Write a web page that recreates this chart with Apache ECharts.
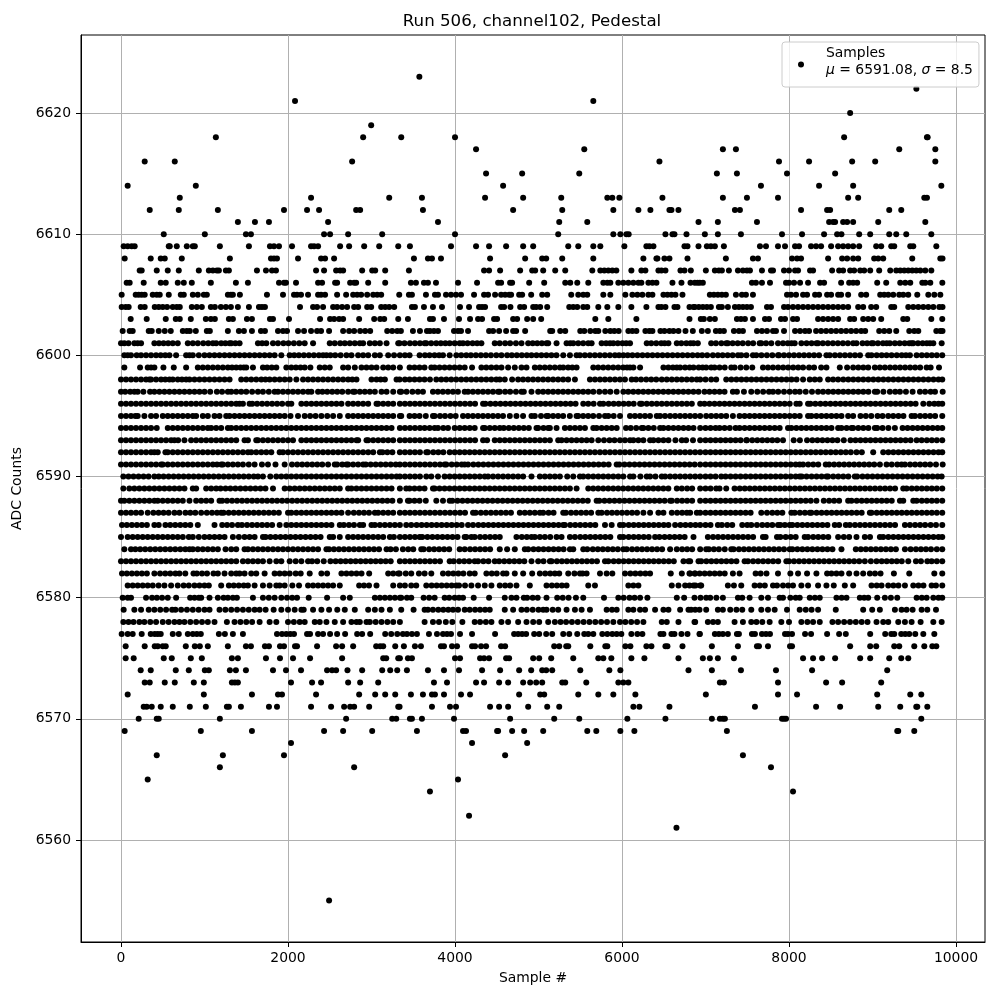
<!DOCTYPE html>
<html><head><meta charset="utf-8">
<style>html,body{margin:0;padding:0;background:#fff}#c{width:1000px;height:1000px}</style>
<script src="https://cdn.jsdelivr.net/npm/echarts@6/dist/echarts.min.js"></script>
</head><body><div id="c"></div>
<script>
const xTicks=[0,2000,4000,6000,8000,10000];
const yTicks=[6560,6570,6580,6590,6600,6610,6620];
const titleText="Run 506, channel102, Pedestal";
const s6623=[3573];
const s6622=[9525];
const s6621=[2084,5656];
const s6620=[8732];
const s6619=[2996];
const s6618=[1136,2900,3356,4000,8660,9652,9660];
const s6617=[4252,5548,7208,7364,9320,9752];
const s6616=[284,644,2768,6448,7880,8240,8756,9032,9752];
const s6615=[4372,4804,5488,7136,7376,7976,8552];
const s6614=[80,896,4576,7664,8360,8768,9824];
const s6613=[704,2276,3212,3604,4360,4816,5272,5824,5884,5968,6484,7208,7496,7868,8708,8828,9620,9652];
const s6612=[344,692,1160,1952,2228,2372,2816,2864,3616,4696,5284,5896,6196,6340,6568,6592,6676,7352,7412,8144,8456,8492,9200,9344];
const s6611=[1400,1604,1772,2480,3796,5248,5584,6916,7148,7616,8480,8528,8552,8648,8696,8768,9068,9632];
const s6610=[512,1004,1496,1556,2432,2504,2720,3128,4000,5236,5896,5980,6052,6080,6520,6604,6628,6772,6992,7148,7424,7916,8156,8420,8576,8628,8840,8972,9200,9284,9404,9704];
const s6609=[32,80,128,164,572,584,668,788,860,884,1184,1532,1784,1832,1892,2048,2276,2312,2360,2624,2732,2912,3092,3320,3460,3952,4252,4408,4612,4816,4936,5356,5476,5656,5740,6028,6292,6328,6376,6748,6784,6916,7016,7064,7112,7220,7652,7724,7868,7952,8072,8120,8264,8324,8384,8504,8588,8648,8708,8768,8840,9044,9104,9224,9260,9452,9488,9764];
const s6608=[44,356,476,524,728,1304,1796,1832,1868,2120,2396,2444,2552,3508,3676,3724,3832,4420,4840,5044,5092,5284,5656,6256,6412,6424,6508,6568,6784,7244,7568,7628,8036,8096,8144,8468,8636,8696,8768,8828,9020,9068,9128,9476,9812,9838];
const s6607=[224,248,428,560,692,932,1052,1100,1148,1172,1256,1292,1628,1736,1808,1856,2336,2432,2576,2624,2660,2888,3008,3044,3164,3448,4348,4408,4540,4780,4924,4960,5056,5200,5320,5644,5740,5788,5836,5884,5932,6112,6232,6280,6436,6472,6520,6700,6748,6824,7004,7112,7160,7196,7280,7388,7448,7496,7532,7676,7784,7808,7940,8000,8072,8108,8252,8288,8516,8600,8648,8732,8780,8852,8900,8972,9080,9212,9284,9332,9380,9428,9476,9524,9572,9632,9704];
const s6606=[68,104,272,476,536,680,752,848,1076,1376,1520,1892,1952,1976,2096,2360,2408,2564,2588,2744,2792,2816,2960,3164,3472,3532,3628,3676,3772,4036,4264,4516,4552,4660,4684,4888,5068,5320,5380,5464,5596,5776,5824,5860,5956,6016,6076,6136,6196,6232,6316,6364,6412,6604,6712,6820,6904,6872,6932,6968,7556,7604,7676,7772,7964,8000,8060,8132,8228,8372,8420,8624,8720,8768,8816,9056,9164,9332,9392,9452,9596,9632,9692,9836];
const s6605=[8,176,212,248,284,380,428,464,572,716,752,860,920,992,1028,1280,1316,1340,1424,1748,1940,2072,2108,2156,2240,2360,2396,2444,2588,2696,2780,2828,2876,2948,3020,3068,3116,3332,3448,3484,3652,3760,3796,3892,3952,4012,4072,4228,4348,4396,4480,4552,4600,4648,4672,4768,4804,4912,5044,5104,5392,5476,5536,5584,5776,5860,6040,6124,6184,6244,6316,6364,6496,6544,6592,6640,6724,7052,7100,7148,7196,7244,7364,7436,7484,7568,7976,8024,8084,8168,8216,8312,8360,8456,8504,8588,8624,8708,8864,8924,9092,9140,9188,9248,9320,9368,9428,9536,9668,9740,9812];
const s6604=[8,56,92,236,284,404,452,500,552,620,668,704,848,908,968,1076,1124,1196,1256,1316,1400,1532,1652,1688,1724,2144,2300,2348,2420,2540,2588,2648,2708,2792,2840,2948,2996,3116,3164,3212,3272,3484,3520,3628,3736,3844,4060,4168,4288,4324,4360,4552,4588,4664,4780,4828,4936,4972,5020,5104,5368,5416,5464,5536,5584,5716,5824,5956,6112,6292,6436,6472,6520,6628,6664,6808,6856,6872,6920,6968,7016,7064,7160,7196,7268,7352,7400,7448,7496,7544,7736,7784,7940,7988,8048,8108,8168,8228,8288,8348,8408,8468,8528,8588,8648,8708,8828,8888,8984,9044,9224,9260,9428,9488,9548,9608,9668,9728,9800,9838];
const s6603=[116,308,536,656,704,836,1016,1076,1124,1292,1340,1508,1568,1784,1820,2012,2384,2504,2552,2612,2660,2852,3032,3104,3152,3320,3436,3700,3736,3868,4048,4180,4276,4324,4468,4504,4696,4744,4864,4936,5032,5680,5836,6172,6808,6944,6980,7052,7112,7376,7424,7472,7568,7712,7760,7904,7952,8048,8096,8348,8408,8468,8528,8588,8732,8780,8888,8948,9008,9104,9368,9416,9704,9835];
const s6602=[20,104,140,332,368,452,524,596,740,788,824,896,1028,1064,1280,1412,1472,1568,1676,1724,1880,1940,1988,2120,2192,2276,2348,2396,2492,2660,2732,2792,2864,2924,2984,3188,3248,3308,3352,3496,3580,3664,3700,3748,3796,3988,4036,4072,4156,4408,4456,4528,4612,4696,4732,4840,5140,5164,5260,5320,5500,5548,5620,5680,5716,5800,5860,5908,5960,6076,6124,6172,6280,6328,6364,6460,6508,6568,6616,6676,6760,6848,6956,7028,7124,7172,7220,7340,7400,7448,7616,7676,7736,7808,7844,7940,8072,8132,8192,8240,8324,8384,8444,8504,8564,8624,8684,8744,8804,8864,8912,9080,9140,9200,9284,9440,9500,9548,9764,9812,9838];
const s6601=[0,40,90,160,200,240,400,455,510,565,620,680,800,860,920,985,1045,1100,1140,1200,1250,1300,1320,1370,1420,1640,1690,1740,1820,1880,1945,2005,2070,2135,2200,2300,2500,2560,2625,2680,2740,2800,2860,2900,2980,3040,3100,3180,3320,3336,3395,3460,3520,3580,3636,3656,3715,3775,3830,3885,3936,3996,4056,4096,4150,4210,4265,4316,4476,4535,4600,4660,4730,4796,4876,4930,4985,5040,5096,5116,5216,5336,5380,5416,5476,5535,5596,5636,5756,5810,5856,5896,5950,6005,6050,6096,6296,6350,6410,6470,6510,6556,6656,6710,6770,6820,6856,6908,7068,7125,7190,7248,7268,7325,7385,7445,7510,7570,7648,7668,7725,7788,7868,7928,7985,8030,8068,8148,8210,8270,8328,8348,8405,8465,8525,8585,8645,8705,8768,8808,8880,8935,8988,9008,9065,9125,9170,9208,9268,9325,9385,9440,9468,9488,9545,9600,9650,9688,9728,9828];
const s6600=[40,80,120,188,240,300,360,420,475,530,580,660,780,820,860,932,1000,1060,1120,1180,1240,1300,1360,1420,1480,1540,1600,1660,1720,1780,1840,1920,2020,2075,2130,2190,2250,2310,2370,2420,2460,2508,2565,2630,2700,2760,2840,2900,2960,3040,3100,3200,3270,3340,3400,3456,3576,3640,3695,3755,3810,3856,3936,4016,4075,4135,4190,4250,4310,4370,4430,4495,4556,4624,4680,4740,4800,4860,4916,4976,5035,5095,5155,5215,5296,5376,5456,5496,5555,5615,5675,5735,5795,5855,5915,5965,6016,6068,6125,6185,6245,6305,6365,6425,6485,6545,6605,6665,6725,6785,6845,6905,6960,7020,7088,7148,7205,7265,7325,7388,7428,7490,7568,7608,7670,7735,7800,7868,7880,7940,8000,8060,8120,8180,8240,8300,8360,8448,8488,8550,8610,8670,8730,8790,8850,8948,8988,9050,9110,9168,9228,9290,9350,9400,9448,9528,9590,9650,9710,9770,9835];
const s6599=[40,228,320,360,400,508,632,780,920,980,1040,1100,1160,1220,1280,1330,1380,1430,1470,1500,1580,1700,1750,1805,1860,1980,2040,2095,2150,2200,2268,2380,2440,2500,2660,2720,2800,2880,2940,3000,3060,3140,3200,3260,3340,3456,3515,3575,3635,3716,3756,3815,3875,3935,3995,4055,4116,4204,4316,4375,4435,4496,4556,4636,4716,4796,4856,4956,5015,5075,5135,5195,5256,5296,5355,5405,5456,5656,5715,5775,5835,5895,5955,6015,6060,6096,6136,6216,6496,6555,6610,6656,6696,6755,6810,6856,6918,6965,7008,7068,7108,7168,7230,7308,7348,7420,7488,7560,7688,7748,7808,7870,7930,7990,8050,8110,8168,8240,8300,8385,8448,8608,8696,8768,8830,8890,8948,9028,9088,9148,9210,9270,9330,9390,9450,9510,9570,9648,9696,9796];
const s6598=[0,60,120,180,240,300,340,360,420,480,530,580,620,680,730,780,820,880,940,1000,1060,1120,1180,1240,1300,1440,1500,1560,1620,1680,1730,1780,1840,1900,1960,2020,2100,2180,2240,2300,2360,2420,2480,2540,2600,2660,2720,2770,2820,3000,3060,3110,3160,3300,3336,3400,3456,3516,3575,3635,3700,3776,3836,3895,3955,4015,4075,4135,4195,4255,4315,4375,4435,4495,4536,4596,4684,4756,4815,4875,4935,4995,5055,5115,5175,5235,5295,5355,5436,5616,5676,5736,5795,5855,5915,5975,6035,6116,6168,6228,6290,6350,6410,6476,6536,6596,6656,6715,6775,6835,6895,6936,7000,7068,7128,7248,7310,7370,7430,7490,7550,7610,7670,7730,7790,7850,7910,7970,8030,8090,8168,8248,8308,8368,8468,8528,8588,8650,8710,8770,8830,8890,8950,9010,9070,9130,9190,9250,9310,9370,9430,9490,9550,9610,9670,9730,9790,9835];
const s6597=[0,50,110,160,200,268,348,400,460,520,580,640,700,760,820,880,940,1000,1068,1148,1210,1280,1320,1380,1440,1500,1570,1640,1700,1770,1840,1880,1940,2000,2060,2120,2180,2240,2280,2360,2412,2470,2530,2590,2650,2720,2780,2800,2860,2920,2980,3040,3120,3180,3260,3340,3356,3420,3490,3556,3616,3736,3795,3855,3915,3975,4035,4116,4156,4215,4275,4335,4395,4455,4516,4536,4600,4660,4730,4796,4824,4916,4996,5055,5115,5175,5235,5295,5355,5416,5476,5535,5595,5656,5728,5796,5860,5936,6016,6075,6135,6195,6255,6315,6375,6435,6495,6555,6615,6675,6735,6795,6855,6916,6988,7048,7108,7168,7228,7328,7376,7460,7548,7620,7690,7760,7808,7870,7940,8008,8072,8128,8200,8275,8348,8408,8470,8530,8590,8650,8710,8770,8830,8890,8950,9028,9056,9130,9208,9272,9328,9400,9480,9568,9630,9696,9748,9840];
const s6596=[0,60,120,180,240,300,360,420,480,540,600,660,720,780,840,900,960,1020,1080,1140,1200,1260,1320,1380,1420,1460,1540,1572,1630,1690,1750,1810,1870,1930,2000,2040,2160,2220,2280,2340,2400,2460,2520,2580,2640,2720,2780,2840,2900,2960,3060,3080,3140,3200,3260,3340,3400,3460,3520,3580,3640,3700,3760,3820,3880,3940,4000,4060,4120,4180,4240,4336,4364,4424,4484,4544,4604,4664,4724,4784,4844,4904,4964,5024,5084,5144,5204,5264,5324,5384,5444,5536,5596,5660,5736,5776,5840,5900,5960,6020,6080,6140,6216,6236,6296,6356,6416,6476,6536,6596,6656,6716,6776,6836,6936,6988,7048,7108,7168,7228,7288,7348,7408,7468,7528,7588,7648,7708,7768,7828,7888,7948,8008,8088,8128,8228,8256,8316,8376,8436,8496,8556,8616,8676,8736,8796,8856,8916,8976,9036,9096,9156,9216,9276,9336,9396,9456,9516,9608,9680,9740,9790,9835];
const s6595=[0,60,120,172,200,280,360,420,500,560,620,680,740,800,860,900,980,1040,1120,1180,1260,1300,1360,1420,1480,1540,1600,1660,1720,1780,1840,1900,1960,2030,2120,2200,2265,2330,2400,2470,2540,2620,2720,2780,2840,2900,2960,3020,3080,3140,3200,3260,3340,3356,3456,3516,3575,3650,3736,3756,3820,3880,3945,4008,4096,4155,4215,4275,4335,4395,4455,4515,4575,4656,4736,4815,4916,4956,5030,5096,5116,5175,5235,5295,5375,5456,5476,5535,5595,5655,5725,5796,5836,5900,5976,6096,6155,6215,6275,6335,6416,6456,6515,6576,6636,6695,6755,6815,6875,6936,7008,7068,7128,7188,7248,7328,7408,7468,7528,7588,7648,7708,7768,7828,7888,7948,8008,8068,8128,8228,8268,8328,8388,8448,8508,8568,8628,8708,8768,8856,8920,8985,9060,9120,9188,9248,9310,9370,9468,9508,9570,9630,9690,9750,9835];
const s6594=[0,60,120,180,240,300,360,428,560,620,680,740,800,860,920,980,1040,1080,1140,1200,1280,1320,1380,1440,1500,1560,1620,1680,1740,1800,1860,1920,1980,2040,2100,2160,2220,2280,2340,2400,2460,2520,2580,2640,2700,2760,2820,2880,2940,3000,3060,3120,3180,3240,3340,3400,3460,3520,3580,3636,3696,3756,3796,3860,3916,3996,4056,4116,4176,4236,4336,4356,4416,4476,4536,4584,4644,4704,4764,4824,4884,4976,4996,5060,5116,5136,5216,5316,5376,5436,5496,5556,5656,5696,5756,5816,5876,5936,6048,6104,6170,6236,6256,6316,6380,6456,6496,6556,6616,6676,6736,6796,6856,6936,7000,7060,7120,7168,7228,7290,7360,7408,7468,7528,7588,7648,7708,7768,7828,7888,7988,8028,8088,8148,8208,8268,8328,8388,8448,8508,8588,8628,8690,8748,8768,8830,8890,8950,9028,9056,9120,9190,9268,9360,9420,9480,9540,9600,9660,9720,9780,9835];
const s6593=[0,60,120,180,240,300,360,420,480,540,600,640,684,760,840,900,960,1020,1080,1140,1200,1260,1320,1380,1480,1520,1620,1640,1700,1760,1820,1880,1940,2000,2060,2160,2220,2280,2340,2400,2460,2520,2580,2640,2700,2760,2820,2840,2940,2960,3020,3080,3140,3200,3260,3340,3400,3460,3520,3580,3640,3700,3760,3820,3880,3940,4000,4060,4120,4180,4240,4336,4384,4476,4536,4596,4656,4716,4776,4836,4896,4956,5016,5076,5136,5236,5276,5336,5396,5456,5516,5576,5636,5716,5784,5850,5910,5975,6035,6096,6136,6196,6256,6336,6376,6436,6496,6556,6640,6716,6768,6850,6936,7000,7060,7120,7180,7240,7300,7360,7420,7488,7496,7560,7620,7680,7740,7800,7860,7928,8056,8130,8216,8280,8340,8400,8460,8520,8580,8656,8736,8796,8856,8916,8976,9036,9096,9156,9216,9276,9336,9396,9456,9528,9588,9650,9710,9770,9835];
const s6592=[0,60,120,180,240,300,360,400,440,532,560,620,680,740,800,860,920,980,1040,1100,1160,1220,1280,1340,1400,1460,1520,1560,1620,1680,1740,1800,1900,1940,2000,2060,2120,2180,2240,2300,2360,2420,2480,2540,2600,2660,2720,2780,2840,2900,2960,3020,3100,3132,3190,3250,3340,3400,3460,3520,3580,3656,3676,3740,3800,3860,3936,3996,4056,4116,4176,4236,4296,4356,4416,4476,4536,4596,4656,4716,4776,4836,4896,4956,5016,5076,5136,5196,5256,5316,5376,5436,5496,5556,5616,5676,5736,5796,5856,5916,5976,6036,6096,6156,6216,6276,6336,6396,6456,6516,6576,6636,6696,6756,6816,6876,6936,7000,7060,7120,7180,7240,7300,7360,7420,7480,7540,7600,7660,7720,7780,7840,7900,7960,8020,8080,8140,8200,8260,8320,8380,8440,8500,8560,8620,8680,8740,8808,8872,9008,9128,9190,9250,9310,9370,9430,9490,9550,9610,9670,9730,9790,9835];
const s6591=[0,60,120,180,240,300,360,420,480,500,560,620,680,740,800,860,920,980,1040,1100,1150,1200,1220,1280,1340,1400,1460,1530,1600,1688,1760,1850,1960,2048,2110,2170,2230,2290,2350,2410,2480,2560,2588,2650,2700,2720,2780,2840,2900,2932,2990,3050,3110,3170,3230,3290,3340,3400,3460,3520,3580,3640,3700,3760,3820,3876,3896,3960,4020,4080,4116,4156,4220,4280,4340,4400,4460,4520,4580,4640,4700,4760,4820,4880,4940,5000,5060,5120,5180,5240,5300,5360,5420,5480,5540,5600,5660,5720,5780,5840,5936,5968,6030,6090,6150,6210,6270,6330,6390,6450,6510,6570,6630,6690,6750,6810,6870,6936,7000,7060,7120,7180,7240,7300,7360,7420,7480,7540,7600,7660,7720,7780,7840,7900,7960,8020,8080,8128,8168,8230,8290,8350,8440,8480,8540,8600,8660,8720,8780,8840,8900,8960,9020,9088,9168,9230,9296,9348,9388,9450,9510,9570,9630,9690,9760,9840];
const s6590=[28,90,150,210,270,330,400,452,510,570,630,690,750,810,870,930,990,1050,1110,1170,1230,1290,1350,1410,1470,1530,1590,1640,1700,1788,1860,1920,1980,2040,2100,2160,2220,2280,2340,2400,2460,2520,2580,2640,2700,2760,2820,2880,2940,3000,3060,3120,3180,3240,3300,3340,3400,3460,3520,3580,3656,3716,3796,3876,3936,3996,4056,4116,4176,4236,4296,4356,4396,4456,4516,4576,4636,4696,4756,4816,4916,5016,5076,5136,5196,5256,5344,5416,5496,5536,5596,5656,5716,5776,5836,5896,5956,6016,6096,6136,6220,6296,6336,6400,6476,6516,6576,6636,6696,6756,6816,6876,6936,7000,7060,7120,7188,7240,7300,7360,7420,7480,7540,7600,7660,7720,7780,7840,7900,7960,8020,8080,8128,8152,8210,8270,8330,8390,8448,8468,8530,8590,8650,8710,8788,8816,8880,8940,9000,9060,9120,9180,9240,9300,9360,9420,9480,9540,9600,9660,9720,9780,9828];
const s6589=[28,100,160,220,280,340,400,460,520,580,640,700,760,860,900,1020,1080,1140,1192,1252,1310,1370,1430,1490,1550,1610,1670,1730,1820,1960,2020,2080,2140,2200,2260,2320,2380,2440,2500,2560,2620,2720,2760,2820,2880,2940,3000,3060,3120,3180,3240,3340,3416,3456,3515,3575,3635,3736,3756,3815,3875,3935,3995,4055,4115,4175,4235,4295,4355,4415,4475,4535,4595,4655,4715,4775,4835,4895,4955,5015,5075,5135,5195,5255,5316,5376,5456,5596,5655,5715,5775,5835,5895,5955,6015,6075,6135,6195,6255,6315,6375,6435,6495,6555,6656,6716,6780,6840,6936,7000,7060,7128,7168,7248,7348,7410,7470,7530,7590,7650,7710,7770,7830,7890,7950,8010,8070,8130,8190,8250,8310,8370,8430,8490,8550,8610,8670,8730,8790,8850,8910,8970,9030,9090,9150,9210,9270,9368,9408,9470,9530,9590,9650,9710,9770,9835];
const s6588=[0,40,100,160,220,280,340,400,440,500,560,620,680,740,820,900,960,1020,1080,1180,1212,1270,1330,1390,1450,1510,1570,1630,1690,1750,1810,1870,1930,1990,2050,2110,2170,2230,2290,2350,2410,2470,2530,2590,2650,2710,2770,2830,2890,2950,3010,3070,3130,3190,3250,3340,3436,3456,3515,3575,3650,3776,3856,3936,3968,4030,4090,4150,4210,4270,4330,4390,4450,4510,4570,4630,4690,4750,4810,4870,4930,4990,5050,5110,5170,5230,5290,5350,5410,5470,5530,5590,5696,5728,5790,5850,5910,5970,6030,6090,6150,6210,6270,6330,6390,6450,6510,6576,6596,6660,6720,6780,6840,6936,7000,7060,7120,7180,7240,7300,7360,7420,7480,7540,7600,7660,7720,7780,7840,7900,7960,8020,8080,8140,8200,8260,8328,8416,8480,8540,8600,8708,8748,8810,8870,8930,8990,9050,9110,9170,9230,9328,9368,9488,9528,9590,9650,9710,9770,9835];
const s6587=[0,60,120,180,240,320,388,450,510,570,640,700,772,830,890,960,1028,1090,1150,1200,1228,1290,1350,1410,1470,1530,1590,1650,1710,1770,1830,1890,2000,2040,2100,2160,2220,2280,2340,2400,2460,2520,2580,2640,2720,2788,2850,2910,2970,3040,3080,3140,3200,3260,3340,3400,3460,3520,3580,3640,3700,3760,3820,3880,3940,4000,4060,4120,4216,4248,4310,4370,4430,4490,4550,4610,4670,4776,4836,4896,4956,5016,5056,5120,5180,5296,5328,5390,5450,5510,5570,5630,5716,5756,5820,5880,5940,6000,6060,6120,6180,6256,6336,6436,6496,6596,6660,6720,6776,6816,6896,6936,7000,7060,7120,7180,7240,7300,7360,7420,7480,7540,7668,7736,7800,7860,7920,8028,8068,8130,8190,8248,8268,8330,8390,8450,8510,8570,8630,8690,8750,8810,8870,8968,8988,9050,9110,9170,9230,9290,9350,9410,9470,9530,9590,9650,9710,9770,9835];
const s6586=[12,70,130,190,250,310,400,452,532,590,650,710,770,830,920,1120,1212,1270,1330,1400,1448,1510,1570,1630,1690,1750,1810,1900,1980,2040,2100,2160,2220,2280,2340,2400,2460,2520,2620,2668,2730,2790,2860,2900,3000,3040,3100,3160,3220,3280,3340,3416,3476,3540,3600,3660,3720,3780,3840,3900,3960,4020,4080,4156,4216,4280,4340,4400,4460,4520,4580,4640,4700,4760,4820,4880,4940,5000,5060,5120,5180,5240,5296,5316,5380,5440,5500,5560,5620,5680,5796,5876,5976,6016,6080,6140,6200,6260,6320,6380,6440,6500,6556,6636,6700,6760,6820,6880,6936,7000,7060,7148,7196,7260,7320,7440,7500,7548,7616,7680,7740,7800,7868,7896,7950,8008,8040,8100,8160,8220,8280,8340,8400,8460,8548,8600,8680,8728,8790,8850,8910,8970,9030,9090,9150,9210,9270,9388,9448,9510,9570,9630,9696,9760,9835];
const s6585=[0,80,140,200,260,320,380,440,500,560,620,680,740,812,860,932,1000,1060,1120,1180,1240,1340,1412,1480,1540,1600,1700,1732,1790,1850,1910,1970,2030,2090,2150,2210,2270,2330,2390,2500,2540,2620,2720,2780,2840,2900,2960,3020,3080,3140,3220,3268,3340,3400,3460,3520,3576,3608,3670,3730,3790,3850,3910,3970,4030,4116,4136,4196,4236,4300,4360,4420,4480,4536,4736,4800,4860,4916,4956,5016,5076,5140,5216,5276,5376,5436,5500,5560,5620,5680,5740,5800,5860,5976,6016,6080,6140,6200,6260,6320,6396,6448,6510,6570,6630,6690,6750,6856,7028,7090,7150,7210,7270,7330,7390,7450,7510,7570,7688,7720,7856,7896,7960,8020,8080,8188,8228,8290,8350,8410,8470,8588,8656,8720,8808,8908,8970,9088,9128,9190,9250,9310,9370,9430,9490,9550,9610,9670,9730,9790,9835];
const s6584=[40,120,172,230,290,350,410,470,530,590,650,710,770,820,860,920,980,1040,1100,1160,1252,1320,1380,1480,1520,1580,1640,1700,1760,1820,1880,1940,2000,2060,2120,2180,2240,2300,2360,2460,2492,2550,2610,2670,2730,2790,2850,2910,2970,3030,3090,3180,3228,3292,3376,3440,3500,3596,3624,3690,3750,3810,3870,3930,4056,4116,4180,4240,4300,4360,4420,4536,4624,4716,4836,4876,4940,5000,5060,5120,5180,5240,5300,5376,5416,5536,5584,5650,5710,5770,5830,5890,5950,6016,6056,6120,6180,6240,6300,6360,6420,6480,6576,6656,6720,6780,6840,6936,7008,7040,7100,7160,7230,7308,7336,7400,7460,7520,7580,7640,7700,7760,7820,7880,7940,8008,8040,8100,8160,8220,8280,8340,8400,8460,8520,8628,8800,8860,8920,8980,9040,9100,9160,9220,9280,9388,9456,9520,9580,9640,9700,9770,9835];
const s6583=[0,60,120,180,240,300,360,420,480,540,600,660,720,780,840,900,960,1020,1080,1140,1200,1260,1320,1380,1460,1520,1580,1640,1700,1780,1860,1920,2020,2092,2160,2240,2288,2350,2428,2508,2570,2630,2690,2750,2810,2870,2930,2990,3050,3110,3170,3230,3340,3400,3460,3520,3580,3640,3700,3760,3820,3936,3984,4050,4110,4170,4236,4276,4340,4400,4476,4528,4590,4650,4710,4770,4830,4916,4996,5060,5136,5156,5220,5280,5340,5400,5460,5520,5580,5640,5700,5796,5836,5900,5960,6020,6080,6140,6200,6260,6320,6380,6440,6500,6560,6620,6736,6796,6816,6916,6948,7010,7070,7130,7190,7250,7310,7370,7468,7508,7570,7630,7690,7750,7810,7870,7968,8000,8060,8120,8180,8240,8300,8360,8420,8480,8540,8600,8660,8720,8780,8840,8908,8980,9048,9110,9170,9230,9290,9350,9428,9520,9580,9656,9708,9770,9835];
const s6582=[12,70,130,190,250,310,400,468,530,590,652,700,770,868,908,970,1030,1108,1160,1240,1320,1380,1420,1480,1560,1620,1720,1840,1900,1960,2020,2092,2152,2260,2400,2468,2640,2700,2760,2820,2880,2972,3200,3260,3320,3336,3410,3476,3568,3636,3716,3856,3920,3980,4040,4100,4176,4236,4376,4440,4500,4576,4616,4716,4816,4924,5016,5080,5140,5196,5248,5356,5430,5496,5528,5576,5736,5816,5884,6036,6100,6160,6220,6280,6336,6584,6716,6816,6876,6808,6870,6930,6990,7050,7110,7170,7230,7328,7408,7600,7660,7730,7868,8016,8108,8216,8328,8456,8508,8568,8628,8720,8808,8888,8968,9030,9096,9256,9440,9740,9835];
const s6581=[80,140,200,260,320,380,450,520,600,680,750,812,880,940,1000,1052,1200,1292,1350,1410,1470,1520,1600,1700,1780,1860,1900,1960,2052,2132,2240,2300,2360,2420,2480,2540,2620,2852,2910,2970,3060,3260,3340,3400,3476,3536,3656,3720,3780,3840,3900,3960,4016,4048,4120,4196,4276,4356,4436,4536,4600,4660,4736,4896,5096,5160,5220,5280,5336,5596,5676,6076,6136,6196,6596,6676,6756,6856,6936,6808,6880,6948,7268,7340,7428,7588,7650,7710,7808,7856,7928,7990,8048,8148,8228,8348,8448,8536,8668,8768,8988,9050,9108,9188,9250,9310,9388,9488,9550,9610,9708,9760,9835];
const s6580=[20,80,120,300,372,430,492,560,660,828,880,932,960,1060,1160,1228,1280,1340,1388,1580,1700,1770,1840,1920,1988,2050,2108,2248,2468,2660,2740,3040,3100,3160,3220,3280,3340,3356,3424,3476,3624,3690,3756,3876,3930,3996,4048,4096,4224,4408,4596,4676,4736,4824,4864,4930,4990,5096,5224,5290,5360,5448,5536,5784,5956,6020,6090,6150,6216,6304,6656,6744,6868,6940,7008,7056,7130,7208,7388,7440,7528,7668,7748,7888,7928,8016,8080,8128,8248,8310,8368,8568,8630,8688,8848,8900,8948,9056,9148,9220,9296,9528,9590,9648,9728,9790,9835];
const s6579=[32,160,240,332,400,470,540,612,652,720,790,860,930,1000,1060,1180,1250,1320,1390,1460,1530,1600,1660,1732,1828,1920,2000,2080,2160,2188,2300,2400,2492,2590,2680,2800,2960,3040,3120,3220,3356,3504,3636,3676,3736,3800,3860,3920,3976,4036,4116,4176,4240,4300,4360,4416,4596,4696,4796,4860,4930,5000,5056,5096,5170,5236,5336,5436,5516,5616,5816,5880,5936,6076,6136,6216,6276,6396,6496,6556,6696,6796,6876,6828,6928,7008,7148,7208,7296,7370,7440,7548,7668,7748,7828,7976,8128,8200,8270,8348,8560,8888,8996,9088,9268,9348,9408,9480,9588,9656,9760];
const s6578=[28,90,150,220,280,350,420,500,570,640,700,760,830,900,970,1040,1120,1268,1360,1430,1500,1570,1660,1780,1860,2000,2070,2140,2200,2320,2380,2460,2560,2660,2760,2820,2860,2940,2980,3050,3120,3190,3260,3340,3636,3736,3808,3890,3968,4088,4236,4300,4370,4436,4556,4636,4756,4856,4936,5008,5116,5196,5264,5330,5400,5470,5540,5610,5680,5750,5820,5896,5976,6040,6110,6180,6256,6476,6536,6676,6876,6868,7028,7090,7148,7348,7448,7548,7610,7680,7768,7908,8000,8148,8220,8288,8368,8520,8588,8660,8730,8800,8870,8940,9048,9128,9188,9308,9388,9468,9576,9728,9828];
const s6577=[8,80,140,248,356,404,440,476,620,692,800,860,908,956,1172,1244,1340,1460,1868,1928,1980,2028,2072,2228,2264,2360,2420,2504,2588,2684,2828,2888,2984,3164,3236,3308,3376,3424,3484,3544,3688,3784,3856,3904,3952,4060,4204,4480,4708,4756,4804,4852,4948,5008,5092,5164,5296,5368,5464,5548,5596,5656,5764,5824,5884,5936,5992,6112,6184,6244,6460,6496,6592,6628,6712,6784,6928,6932,7112,7160,7208,7268,7376,7400,7556,7592,7676,7724,7772,7952,7988,8036,8192,8264,8456,8600,8680,8972,9152,9224,9260,9344,9392,9440,9512,9608,9740];
const s6576=[56,284,404,440,500,536,776,884,944,1040,1280,1496,1556,1724,1772,1904,1952,2084,2108,2348,2576,2648,2780,3056,3104,3140,3284,3388,3520,3592,3832,3868,3964,4024,4204,4240,4312,4372,4552,4600,5188,5248,5332,5356,5620,5800,5824,6040,6100,6292,6352,6520,6544,6724,7076,7388,7616,7640,7748,8012,8036,8732,8972,9044,9260,9320,9500,9620,9716,9764];
const s6575=[56,152,512,608,836,968,1328,1400,1736,1904,2060,2264,2648,3140,3176,3320,3340,3436,3484,4000,4060,4300,4348,4408,4612,4648,4936,5008,5152,5416,5716,5776,5872,6112,6268,6676,6968,7052,7148,7340,8168,8288,8396,8552,8852,8972,9200,9344,9428];
const s6574=[236,356,656,812,1004,1052,1304,1376,1496,1820,1976,2156,2468,2528,2576,2712,2888,3128,3224,3308,3424,3676,3868,4048,4324,4540,4768,4912,5044,5092,5164,5500,5848,5980,6796,7076,7424,7844,8276,9176];
const s6573=[284,344,524,644,872,992,1328,1364,1400,2036,2288,2396,2720,2864,3080,3748,3904,4252,4348,4528,4636,4816,4900,4972,5044,5284,5320,5572,5956,6016,6076,7172,7220,7868,8444,8636,9104];
const s6572=[80,992,1568,1880,1928,2336,2852,3044,3164,3284,3472,3616,3724,3760,3868,4072,4180,4768,5020,5068,5476,5716,5896,6160,7004,7868,8096,9056,9452,9584];
const s6571=[272,308,368,476,620,824,1016,1268,1292,1436,1772,1868,2276,2516,2672,2744,2792,2972,3320,3336,3724,3940,4012,4420,4528,4636,4876,5104,5248,6136,6208,6568,7592,8324,8612,9068,9332,9524,9536,9656];
const s6570=[212,428,452,1184,2696,3248,3296,3460,3484,3604,3988,4660,5188,5488,6064,6520,7076,7172,7208,7232,7916,7940,7964,9584];
const s6569=[44,956,1568,2432,2660,3008,3544,4096,4132,4504,4516,4684,4828,5056,5584,5692,5980,6148,7256,9296,9308,9500];
const s6568=[2036,4204,4864];
const s6567=[428,1220,1952,4600,7448];
const s6566=[1184,2792,7784];
const s6565=[320,4036];
const s6564=[3700,8048];
const s6562=[4168];
const s6561=[6652];
const s6555=[2492];

const levels=[[6623,s6623],[6622,s6622],[6621,s6621],[6620,s6620],[6619,s6619],[6618,s6618],[6617,s6617],[6616,s6616],[6615,s6615],[6614,s6614],[6613,s6613],[6612,s6612],[6611,s6611],[6610,s6610],[6609,s6609],[6608,s6608],[6607,s6607],[6606,s6606],[6605,s6605],[6604,s6604],[6603,s6603],[6602,s6602],[6601,s6601],[6600,s6600],[6599,s6599],[6598,s6598],[6597,s6597],[6596,s6596],[6595,s6595],[6594,s6594],[6593,s6593],[6592,s6592],[6591,s6591],[6590,s6590],[6589,s6589],[6588,s6588],[6587,s6587],[6586,s6586],[6585,s6585],[6584,s6584],[6583,s6583],[6582,s6582],[6581,s6581],[6580,s6580],[6579,s6579],[6578,s6578],[6577,s6577],[6576,s6576],[6575,s6575],[6574,s6574],[6573,s6573],[6572,s6572],[6571,s6571],[6570,s6570],[6569,s6569],[6568,s6568],[6567,s6567],[6566,s6566],[6565,s6565],[6564,s6564],[6562,s6562],[6561,s6561],[6555,s6555]];
const points=[];
levels.forEach(function(l){l[1].forEach(function(x){points.push([x,l[0]]);});});

const FONT='"DejaVu Sans"';
const seriesName='Samples\nμ = 6591.08, σ = 8.5';
const chart=echarts.init(document.getElementById('c'),null,{renderer:'canvas'});
function axisBase(name,ticks,lo,hi,margin){return {
  type:'value',name:name,nameLocation:'middle',min:lo,max:hi,
  axisLine:{show:true,onZero:false,lineStyle:{color:'#000',width:1}},
  axisTick:{show:true,length:5,customValues:ticks,lineStyle:{color:'#000',width:1}},
  axisLabel:{customValues:ticks,color:'#000',fontFamily:FONT,fontSize:13.9,margin:margin,showMinLabel:true,showMaxLabel:true,formatter:function(v){return String(v);}},
  splitLine:{show:true,lineStyle:{color:'#b0b0b0',width:1}},
  nameTextStyle:{color:'#000',fontFamily:FONT,fontSize:13.9}
};}
const legendBase={fontFamily:FONT,fontSize:13.9,lineHeight:17,color:'#000'};
chart.setOption({
  animation:false,backgroundColor:'#fff',
  title:{text:titleText,left:527,top:8,textAlign:'center',textStyle:{color:'#000',fontFamily:FONT,fontSize:16.67,fontWeight:'normal'}},
  grid:{left:81,right:15,top:35,bottom:58,containLabel:false,show:true,borderColor:'#000',borderWidth:1,backgroundColor:'transparent'},
  xAxis:Object.assign(axisBase('Sample #',xTicks,-479,10347,9),{nameGap:29}),
  yAxis:Object.assign(axisBase('ADC Counts',yTicks,6551.58,6626.44,10),{nameGap:55}),
  legend:{show:true,left:782,top:42,orient:'vertical',padding:[3,6,3,16],
    backgroundColor:'rgba(255,255,255,0.8)',borderColor:'#ccc',borderWidth:1,borderRadius:3,
    itemWidth:28,itemHeight:6,icon:'circle',selectedMode:false,
    data:[{name:seriesName,icon:'circle'}],
    formatter:function(){return '{n|Samples}\n{i|μ}{n| = 6591.08, }{i|σ}{n| = 8.5}';},
    textStyle:{color:'#000',fontFamily:FONT,fontSize:13.9,lineHeight:17,padding:[0,0,5,6],
      rich:{n:legendBase,i:Object.assign({fontStyle:'italic'},legendBase)}}},
  series:[{type:'scatter',name:seriesName,data:points,symbol:'circle',symbolSize:6,
    large:false,progressive:0,itemStyle:{color:'#000',opacity:1},emphasis:{disabled:true},silent:true,clip:true,z:3}]
});
</script></body></html>
